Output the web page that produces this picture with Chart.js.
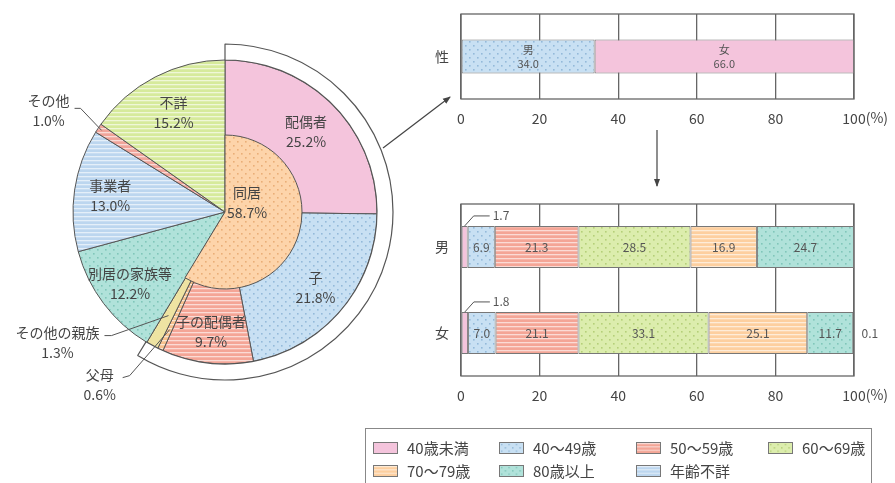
<!DOCTYPE html>
<html><head><meta charset="utf-8">
<script src="https://cdn.jsdelivr.net/npm/chart.js@4.4.0/dist/chart.umd.min.js"></script>
<style>
html,body{margin:0;padding:0;background:#fff;}
body{width:895px;height:483px;overflow:hidden;position:relative;font-family:"Noto Sans CJK JP","Noto Sans",sans-serif;color:#444;}
.box{position:absolute;}
#legend{position:absolute;left:365px;top:428px;width:507px;height:62px;border:1px solid #888;box-sizing:border-box;}
.li{position:absolute;display:flex;align-items:center;font-size:15px;color:#444;white-space:nowrap;line-height:1;}
.li canvas{width:25px;height:12px;border:1px solid #777;box-sizing:border-box;margin-right:9px;}
</style></head><body>
<div class="box" style="left:0;top:0;width:450px;height:424px"><canvas id="pie"></canvas></div>
<div class="box" style="left:0;top:0;width:450px;height:424px"><canvas id="pieIn"></canvas></div>
<div class="box" style="left:420px;top:0;width:475px;height:135px"><canvas id="sex"></canvas></div>
<div class="box" style="left:420px;top:190px;width:475px;height:220px"><canvas id="age"></canvas></div>
<svg class="box" style="left:0;top:0" width="895" height="483">
  <defs><marker id="ah" markerWidth="8" markerHeight="8" refX="7" refY="4" orient="auto" markerUnits="userSpaceOnUse">
    <path d="M0,1 L8,4 L0,7 Z" fill="#444"/></marker></defs>
  <line x1="383" y1="148" x2="450" y2="97" stroke="#444" stroke-width="1.2" marker-end="url(#ah)"/>
  <line x1="657" y1="130" x2="657" y2="186" stroke="#444" stroke-width="1.2" marker-end="url(#ah)"/>
</svg>
<div id="legend"></div>
<script>
// ---- data ----
const pieLabels = ['配偶者','子','子の配偶者','父母','その他の親族','別居の家族等','事業者','その他','不詳'];
const pieValues = [25.2, 21.8, 9.7, 0.6, 1.3, 12.2, 13.0, 1.0, 15.2];
const livingLabel = '同居';
const livingValue = 58.7;
const sexCategory = ['性'];
const sexLabels = ['男', '女'];
const sexValues = [34.0, 66.0];
const ageCategories = ['男', '女'];
const ageLabels = ['40歳未満','40〜49歳','50〜59歳','60〜69歳','70〜79歳','80歳以上','年齢不詳'];
const ageMale   = [1.7, 6.9, 21.3, 28.5, 16.9, 24.7, 0];
const ageFemale = [1.8, 7.0, 21.1, 33.1, 25.1, 11.7, 0.1];
const xTickValues = [0, 20, 40, 60, 80, 100];

// ---- styles ----
const FONT = '"Noto Sans CJK JP","Noto Sans",sans-serif';
const TXT = '#444';
function makeFill(base, kind, ink){
  const c = document.createElement('canvas');
  const g = c.getContext('2d');
  if (kind === 'dots'){
    c.width = 8; c.height = 8;
    g.fillStyle = base; g.fillRect(0,0,8,8);
    g.fillStyle = ink; g.fillRect(1,1,1.6,1.6); g.fillRect(5,5,1.6,1.6);
  } else if (kind === 'stripes'){
    c.width = 4; c.height = 4;
    g.fillStyle = base; g.fillRect(0,0,4,4);
    g.fillStyle = 'rgba(255,255,255,0.6)'; g.fillRect(0,0,4,1.3);
  } else {
    c.width = 4; c.height = 4;
    g.fillStyle = base; g.fillRect(0,0,4,4);
  }
  return {pattern: g.createPattern(c, 'repeat'), tile: c};
}
const F = {
  pink:    makeFill('#f4c4dc','solid'),
  blueDot: makeFill('#c8e0f3','dots','#94b9da'),
  salmon:  makeFill('#f4a596','stripes'),
  greenDot:makeFill('#dcedad','dots','#b5cf79'),
  orange:  makeFill('#fdcf9f','stripes'),
  tealDot: makeFill('#b0e2da','dots','#80c6ba'),
  blueStr: makeFill('#bcd6ef','stripes'),
  peachDot:makeFill('#fdd4aa','dots','#e9ae78'),
  tan:     makeFill('#f6c08c','stripes'),
  cream:   makeFill('#eee3a2','solid'),
  greenStr:makeFill('#d6ea9b','stripes'),
  salmon2: makeFill('#f0a49a','stripes')
};
const pieFills = [F.pink, F.blueDot, F.salmon, F.tan, F.cream, F.tealDot, F.blueStr, F.salmon2, F.greenStr].map(f=>f.pattern);
const ageFills = [F.pink, F.blueDot, F.salmon, F.greenDot, F.orange, F.tealDot, F.blueStr];
const sexFills = [F.blueDot, F.pink];

// ---- pie ----
const pieChart = new Chart(document.getElementById('pie'), {
  type: 'doughnut',
  data: { labels: pieLabels, datasets: [
    { data: [livingValue, 100 - livingValue], backgroundColor: ['#ffffff','rgba(0,0,0,0)'],
      borderColor: ['#555','rgba(0,0,0,0)'], borderWidth: [1.2, 0], weight: 16 },
    { data: pieValues, backgroundColor: pieFills, borderColor: '#555', borderWidth: 1, weight: 152 }
  ]},
  options: { responsive: true, maintainAspectRatio: false, animation: false, cutout: 0, radius: 168,
    layout: {padding: 0}, plugins: { legend: {display:false}, tooltip: {enabled:false} } }
});

// inner label placement: radius along slice mid angle
const insideLabels = [
  {i:0, r:114}, {i:1, r:118}, {i:2, r:120}, {i:5, r:119}, {i:6, r:116}, {i:8, r:112}
];
// outside labels: anchor radius on slice, text offset from anchor, leader elbow offset
const outsideLabels = [
  {i:7, r:148, tx:-53, ty:-20, elbow:[-21,-22], start:[-27,-22]},
  {i:4, r:118, tx:-111, ty:27, elbow:[-57,20], start:[-64,20]},
  {i:3, r:130, tx:-70, ty:55, elbow:[-40,46], start:[-47,48]}
];
const pieLabelPlugin = {
  id: 'pieLabels',
  afterDatasetsDraw(chart){
    const ctx = chart.ctx;
    const arcs = pieChart.getDatasetMeta(1).data;
    ctx.save();
    ctx.fillStyle = TXT; ctx.font = '14px ' + FONT;
    ctx.textAlign = 'center'; ctx.textBaseline = 'middle';
    const pct = v => v.toFixed(1) + '%';
    insideLabels.forEach(L => {
      const a = arcs[L.i]; const m = (a.startAngle + a.endAngle)/2;
      const x = a.x + L.r*Math.cos(m), y = a.y + L.r*Math.sin(m);
      ctx.fillText(pieLabels[L.i], x, y - 10);
      ctx.fillText(pct(pieValues[L.i]), x, y + 10);
    });
    ctx.strokeStyle = '#555'; ctx.lineWidth = 1;
    outsideLabels.forEach(L => {
      const a = arcs[L.i]; const m = (a.startAngle + a.endAngle)/2;
      const ax = a.x + L.r*Math.cos(m), ay = a.y + L.r*Math.sin(m);
      ctx.beginPath();
      ctx.moveTo(ax + L.start[0], ay + L.start[1]);
      ctx.lineTo(ax + L.elbow[0], ay + L.elbow[1]);
      ctx.lineTo(ax, ay);
      ctx.stroke();
      ctx.fillText(pieLabels[L.i], ax + L.tx, ay + L.ty - 10);
      ctx.fillText(pct(pieValues[L.i]), ax + L.tx, ay + L.ty + 10);
    });
    // 同居 label
    const c = chart.getDatasetMeta(0).data[0];
    ctx.fillText(livingLabel, c.x + 22, c.y - 19);
    ctx.fillText(pct(livingValue), c.x + 22, c.y + 1);
    ctx.restore();
  }
};
new Chart(document.getElementById('pieIn'), {
  type: 'pie',
  data: { labels: [livingLabel, ''], datasets: [
    { data: [livingValue, 100 - livingValue], backgroundColor: [F.peachDot.pattern, 'rgba(0,0,0,0)'],
      borderColor: ['#555','rgba(0,0,0,0)'], borderWidth: [1, 0] }
  ]},
  options: { responsive: true, maintainAspectRatio: false, animation: false, radius: 77,
    layout: {padding: 0}, plugins: { legend: {display:false}, tooltip: {enabled:false} } },
  plugins: [pieLabelPlugin]
});

// ---- bar charts ----
const framePlugin = {
  id: 'frame',
  beforeDatasetsDraw(chart){
    const {ctx, chartArea: a} = chart;
    ctx.save(); ctx.strokeStyle = '#666'; ctx.lineWidth = 1.3;
    ctx.strokeRect(a.left, a.top, a.right - a.left, a.bottom - a.top);
    ctx.restore();
  },
  afterDraw(chart){
    const {ctx} = chart; const sx = chart.scales.x;
    ctx.save(); ctx.fillStyle = TXT; ctx.font = '14px ' + FONT;
    ctx.textBaseline = 'middle'; ctx.textAlign = 'left';
    const w = ctx.measureText('100').width;
    ctx.fillText('(%)', sx.getPixelForValue(100) + w/2, chart.chartArea.bottom + 19);
    ctx.restore();
  }
};
function barOptions(padTop, xHeight){
  return {
    indexAxis: 'y', responsive: true, maintainAspectRatio: false, animation: false,
    layout: { padding: {top: padTop, right: 41, bottom: 0, left: 0} },
    plugins: { legend: {display:false}, tooltip: {enabled:false} },
    scales: {
      x: { stacked: true, min: 0, max: 100,
        afterBuildTicks: s => { s.ticks = xTickValues.map(v => ({value: v})); },
        afterFit: s => { s.height = xHeight; s.paddingLeft = 0; s.paddingRight = 0; },
        grid: { color: '#666', lineWidth: 1.3, drawTicks: false },
        border: { display: false },
        ticks: { padding: 11, color: TXT, font: {family: FONT, size: 14} } },
      y: { stacked: true,
        afterFit: s => { s.width = 41; s.paddingTop = 0; s.paddingBottom = 0; },
        grid: { display: false, drawTicks: false },
        border: { display: false },
        ticks: { padding: 12, color: TXT, font: {family: FONT, size: 14} } }
    }
  };
}
const sexLabelPlugin = {
  id: 'sexLabels',
  afterDatasetsDraw(chart){
    const ctx = chart.ctx;
    ctx.save(); ctx.fillStyle = '#555'; ctx.font = '11px ' + FONT;
    ctx.textAlign = 'center'; ctx.textBaseline = 'middle';
    chart.data.datasets.forEach((ds, di) => {
      const el = chart.getDatasetMeta(di).data[0];
      const cx = (el.x + el.base)/2;
      ctx.fillText(ds.label, cx, el.y - 7);
      ctx.fillText(ds.data[0].toFixed(1), cx, el.y + 7);
    });
    ctx.restore();
  }
};
new Chart(document.getElementById('sex'), {
  type: 'bar',
  data: { labels: sexCategory, datasets: sexLabels.map((l, i) => ({
    label: l, data: [sexValues[i]], backgroundColor: sexFills[i].pattern,
    borderColor: '#777', borderWidth: 1, borderSkipped: false,
    barPercentage: 1, categoryPercentage: 0.4 })) },
  options: barOptions(14, 36),
  plugins: [framePlugin, sexLabelPlugin]
});

const ageLabelPlugin = {
  id: 'ageLabels',
  afterDatasetsDraw(chart){
    const ctx = chart.ctx;
    ctx.save(); ctx.fillStyle = '#555'; ctx.font = '12px ' + FONT;
    ctx.textBaseline = 'middle'; ctx.strokeStyle = '#555'; ctx.lineWidth = 1;
    chart.data.datasets.forEach((ds, di) => {
      chart.getDatasetMeta(di).data.forEach((el, ci) => {
        const v = ds.data[ci]; if (!v) return;
        const cx = (el.x + el.base)/2;
        if (v >= 5){
          ctx.textAlign = 'center'; ctx.fillText(v.toFixed(1), cx, el.y);
        } else if (di === 0){
          const top = el.y - el.height/2;
          ctx.beginPath(); ctx.moveTo(cx, top); ctx.lineTo(cx + 9, top - 10); ctx.lineTo(cx + 25, top - 10); ctx.stroke();
          ctx.textAlign = 'left'; ctx.fillText(v.toFixed(1), cx + 28, top - 10);
        } else {
          ctx.textAlign = 'left'; ctx.fillText(v.toFixed(1), el.x + 8, el.y);
        }
      });
    });
    ctx.restore();
  }
};
const ageChart = new Chart(document.getElementById('age'), {
  type: 'bar',
  data: { labels: ageCategories, datasets: ageLabels.map((l, i) => ({
    label: l, data: [ageMale[i], ageFemale[i]], backgroundColor: ageFills[i].pattern,
    borderColor: '#777', borderWidth: 1, borderSkipped: false,
    barPercentage: 1, categoryPercentage: 0.49 })) },
  options: barOptions(14, 34),
  plugins: [framePlugin, ageLabelPlugin]
});

// ---- legend (built from the age datasets) ----
const legendPos = [[7,19],[133,19],[270,19],[402,19],[7,42],[133,42],[270,42]];
const lg = document.getElementById('legend');
ageChart.data.datasets.forEach((ds, i) => {
  const d = document.createElement('div'); d.className = 'li';
  d.style.left = legendPos[i][0] + 'px'; d.style.top = (legendPos[i][1] - 8) + 'px';
  const sw = document.createElement('canvas'); sw.width = 25; sw.height = 12;
  const g = sw.getContext('2d'); g.fillStyle = g.createPattern(ageFills[i].tile, 'repeat'); g.fillRect(0,0,25,12);
  d.appendChild(sw);
  const t = document.createElement('span'); t.textContent = ds.label; d.appendChild(t);
  lg.appendChild(d);
});
</script>
</body></html>
